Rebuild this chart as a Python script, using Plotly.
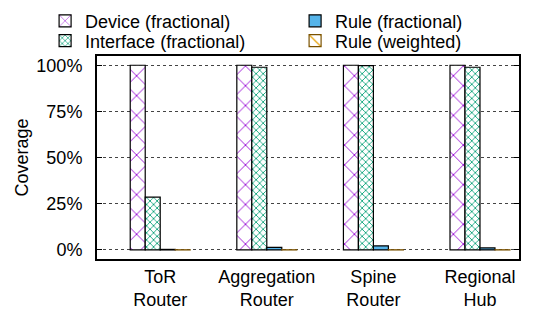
import plotly.graph_objects as go

categories = ["ToR<br>Router", "Aggregation<br>Router", "Spine<br>Router", "Regional<br>Hub"]
device_frac = [100.0, 100.0, 100.0, 100.0]
interface_frac = [28.6, 98.9, 99.8, 98.9]
rule_frac = [0.3, 1.4, 2.2, 1.1]
rule_weighted = [0.1, 0.1, 0.1, 0.1]
tick_vals = [0, 25, 50, 75, 100]
tick_text = ["0%", "25%", "50%", "75%", "100%"]

FONT = "Liberation Sans, Arial, sans-serif"
FS = 18

fig = go.Figure()
fig.add_trace(go.Bar(
    name="Device (fractional)", x=categories, y=device_frac, legend="legend",
    marker=dict(color="white", line=dict(color="black", width=1.2),
                pattern=dict(shape="x", fgcolor="#9400d3", bgcolor="white",
                             size=14, solidity=0.12, fgopacity=1)),
))
fig.add_trace(go.Bar(
    name="Interface (fractional)", x=categories, y=interface_frac, legend="legend2",
    marker=dict(color="white", line=dict(color="black", width=1.2),
                pattern=dict(shape="x", fgcolor="#009e73", bgcolor="white",
                             size=5, solidity=0.3, fgopacity=1)),
))
fig.add_trace(go.Bar(
    name="Rule (fractional)", x=categories, y=rule_frac, legend="legend",
    marker=dict(color="#56b4e9", line=dict(color="black", width=1.2)),
))
fig.add_trace(go.Bar(
    name="Rule (weighted)", x=categories, y=rule_weighted, legend="legend2",
    marker=dict(color="white", line=dict(color="#7a5200", width=1.2),
                pattern=dict(shape="\\", fgcolor="#e69f00", bgcolor="white",
                             size=10, solidity=0.15, fgopacity=1)),
))

leg_common = dict(
    orientation="h", xref="paper", yref="paper",
    x=-0.123, xanchor="left", yanchor="middle",
    entrywidth=205, entrywidthmode="pixels",
    traceorder="normal", font=dict(size=FS),
    bgcolor="rgba(0,0,0,0)", itemwidth=30,
)

# page body has an 8px default margin, so the figure is 8px smaller
fig.update_layout(
    width=532, height=301,
    margin=dict(l=89, r=21, t=48, b=50, autoexpand=False),
    paper_bgcolor="white", plot_bgcolor="white",
    font=dict(family=FONT, size=FS, color="black"),
    barmode="group", bargap=0.4375, bargroupgap=0,
    showlegend=True,
    legend=dict(leg_common, y=1.172),
    legend2=dict(leg_common, y=1.074),
    xaxis=dict(
        type="category", range=[-0.593, 3.366],
        showline=True, linecolor="black", linewidth=2, mirror=True,
        ticks="", showgrid=False, tickfont=dict(size=FS),
    ),
    yaxis=dict(
        range=[-4.9, 105.0], tickvals=tick_vals, ticktext=tick_text,
        showline=True, linecolor="black", linewidth=2, mirror="ticks",
        ticks="inside", ticklen=5, tickwidth=1, tickcolor="black",
        showgrid=True, gridcolor="#444", griddash="dot", gridwidth=1,
        zeroline=False, tickfont=dict(size=FS), ticklabelstandoff=9,
        title=dict(text="Coverage", font=dict(size=FS), standoff=3),
    ),
)

fig.write_html("out.html")
